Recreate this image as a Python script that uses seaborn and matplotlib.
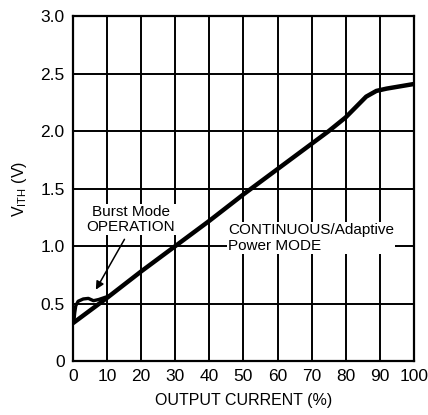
import pandas as pd
import seaborn as sns
import matplotlib.pyplot as plt

# values
current = [0, 10, 20, 30, 40, 50, 60, 70, 75, 80, 83, 86, 89, 92, 96, 100]
v_ith = [0.33, 0.55, 0.78, 1.0, 1.22, 1.45, 1.67, 1.89, 2.0, 2.12, 2.21, 2.30, 2.35, 2.37, 2.39, 2.41]

burst_current = [0.3, 0.5, 0.8, 1.5, 3, 4.5, 6, 7.5, 9, 10.5]
burst_v = [0.36, 0.42, 0.48, 0.52, 0.54, 0.545, 0.525, 0.535, 0.55, 0.565]

x_ticks = [0, 10, 20, 30, 40, 50, 60, 70, 80, 90, 100]
y_ticks = [0, 0.5, 1.0, 1.5, 2.0, 2.5, 3.0]
y_labels = ["0", "0.5", "1.0", "1.5", "2.0", "2.5", "3.0"]

sns.set_style("white")
plt.rcParams['font.family'] = ['Liberation Sans Narrow', 'Liberation Sans', 'DejaVu Sans']
plt.rcParams['text.color'] = 'black'
plt.rcParams['axes.labelcolor'] = 'black'
plt.rcParams['xtick.color'] = 'black'
plt.rcParams['ytick.color'] = 'black'

main = pd.DataFrame({"current": current, "v": v_ith})
burst = pd.DataFrame({"current": burst_current, "v": burst_v})

fig = plt.figure(figsize=(4.28, 4.15), dpi=100)
ax = fig.add_axes([0.1706, 0.130, 0.7964, 0.831])

sns.lineplot(data=main, x="current", y="v", color="black", lw=3.2, ax=ax, zorder=4)
sns.lineplot(data=burst, x="current", y="v", color="black", lw=2.4, ax=ax, zorder=4)

ax.set_xlim(0, 100)
ax.set_ylim(0, 3.0)
ax.set_xticks(x_ticks)
ax.set_yticks(y_ticks)
ax.set_yticklabels(y_labels)
ax.grid(True, color="black", lw=1.4)
ax.set_axisbelow(True)
for s in ax.spines.values():
    s.set_color("black")
    s.set_linewidth(1.6)
ax.tick_params(length=0, labelsize=12.5, pad=6)

ax.set_xlabel("OUTPUT CURRENT (%)", fontsize=11.5, labelpad=6)
ax.set_ylabel(r"V$_{\mathregular{ITH}}$ (V)", fontsize=11.5, labelpad=8)

box = dict(facecolor="white", edgecolor="none", pad=1)
ax.text(17, 1.23, "Burst Mode\nOPERATION", fontsize=11, ha="center", va="center",
        linespacing=1.05, bbox=box, zorder=3)
ax.text(45.5, 1.07, "CONTINUOUS/Adaptive\nPower MODE", fontsize=11, ha="left", va="center",
        linespacing=1.1, bbox=box, zorder=3)
ax.annotate("", xy=(6.3, 0.6), xytext=(15.5, 1.08),
            arrowprops=dict(arrowstyle="-|>", color="black", lw=1.1, mutation_scale=12),
            zorder=5)

fig.savefig("out.png", dpi=100)
